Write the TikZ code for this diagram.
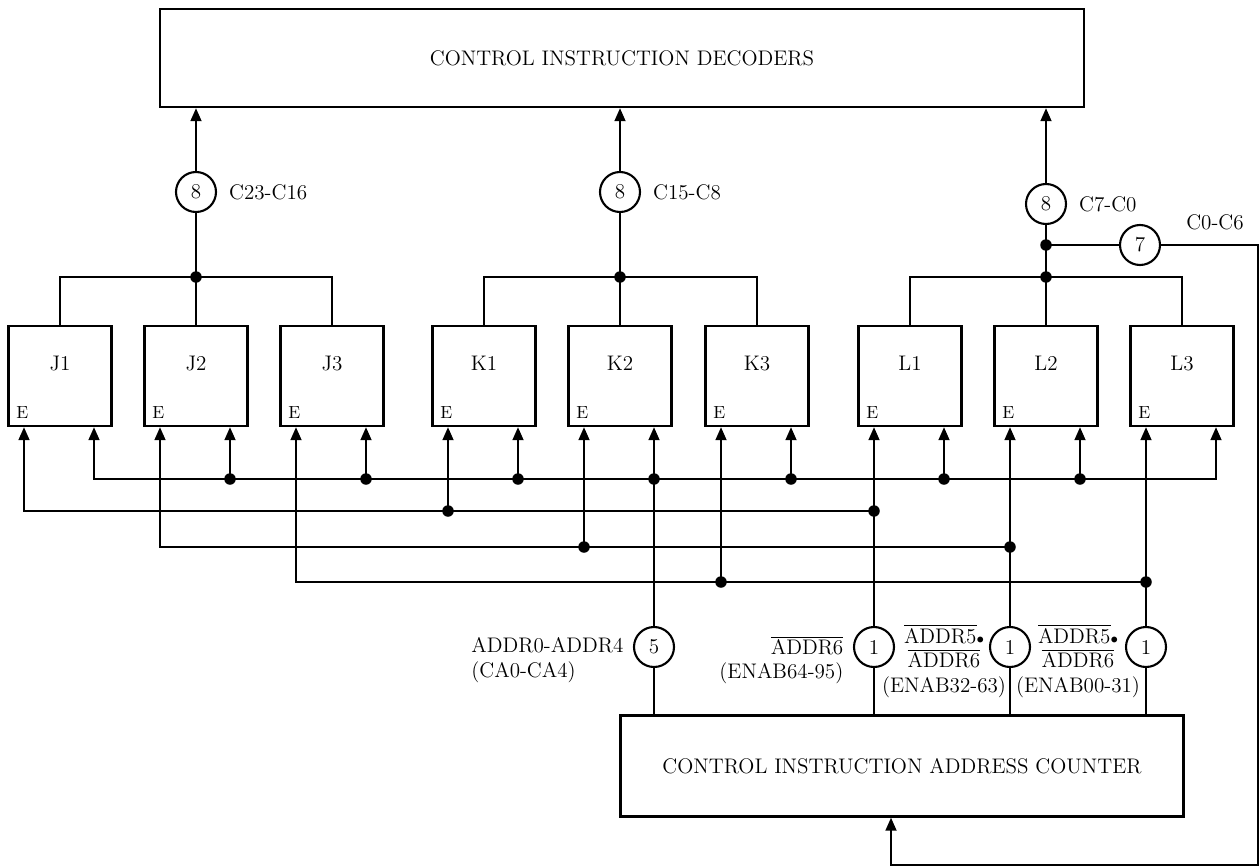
\documentclass[tikz,border=0pt]{standalone}
\usepackage{amsmath,amssymb}
\usepackage{tikz}
\usetikzlibrary{arrows.meta,positioning}

\begin{document}
\begin{tikzpicture}[
  x=0.2mm,y=-0.2mm,
  >={Triangle[length=2.6mm,width=2.2mm]},
  wire/.style={line width=1pt},
  flow/.style={wire,->},
  block/.style={draw,line width=1.4pt,align=center,font=\large},
  reg/.style={draw,line width=1.4pt,minimum width=2.06cm,minimum height=2cm,text depth=5mm,font=\large,
    label={[anchor=south west,inner sep=5pt]south west:E}},
  ring/.style={draw,line width=1.2pt,circle,minimum size=8mm,inner sep=0pt,font=\large},
  sig/.style={font=\large,inner sep=1pt}
]
\useasboundingbox (0,0) rectangle (1260,867);
\node[block,minimum width=18.48cm,minimum height=1.96cm] (dec) at (622,58) {CONTROL INSTRUCTION DECODERS};
\node[block,minimum width=11.26cm,minimum height=2.02cm] (ctr) at (902,766) {CONTROL INSTRUCTION ADDRESS COUNTER};
% register rows
\node[reg] (J1) at (60,376) {J1}; \node[reg] (J2) at (196,376) {J2}; \node[reg] (J3) at (332,376) {J3};
\node[reg] (K1) at (484,376) {K1}; \node[reg] (K2) at (620,376) {K2}; \node[reg] (K3) at (757,376) {K3};
\node[reg] (L1) at (910,376) {L1}; \node[reg] (L2) at (1046,376) {L2}; \node[reg] (L3) at (1182,376) {L3};
\coordinate (J1e) at ([xshift=-7.2mm]J1.south); \coordinate (J1d) at ([xshift=6.8mm]J1.south);
\coordinate (J2e) at ([xshift=-7.2mm]J2.south); \coordinate (J2d) at ([xshift=6.8mm]J2.south);
\coordinate (J3e) at ([xshift=-7.2mm]J3.south); \coordinate (J3d) at ([xshift=6.8mm]J3.south);
\coordinate (K1e) at ([xshift=-7.2mm]K1.south); \coordinate (K1d) at ([xshift=6.8mm]K1.south);
\coordinate (K2e) at ([xshift=-7.2mm]K2.south); \coordinate (K2d) at ([xshift=6.8mm]K2.south);
\coordinate (K3e) at ([xshift=-7.2mm]K3.south); \coordinate (K3d) at ([xshift=6.8mm]K3.south);
\coordinate (L1e) at ([xshift=-7.2mm]L1.south); \coordinate (L1d) at ([xshift=6.8mm]L1.south);
\coordinate (L2e) at ([xshift=-7.2mm]L2.south); \coordinate (L2d) at ([xshift=6.8mm]L2.south);
\coordinate (L3e) at ([xshift=-7.2mm]L3.south); \coordinate (L3d) at ([xshift=6.8mm]L3.south);
\coordinate (ob) at (0,277); \coordinate (rl) at (0,647);
\coordinate (b1) at (0,479); \coordinate (b2) at (0,511); \coordinate (b3) at (0,547); \coordinate (b4) at (0,582);
% outputs to the decoders
\coordinate (jj) at (J2.north |- ob); \coordinate (kk) at (K2.north |- ob); \coordinate (ll) at (L2.north |- ob);
\draw[wire] (J1.north) |- (jj) -| (J3.north); \draw[wire] (J2.north) -- (jj);
\draw[wire] (K1.north) |- (kk) -| (K3.north); \draw[wire] (K2.north) -- (kk);
\draw[wire] (L1.north) |- (ll) -| (L3.north); \draw[wire] (L2.north) -- (ll);
\node[ring] (cj) at (196,192) {8}; \node[ring] (ck) at (620,192) {8}; \node[ring] (cl) at (1046,204) {8};
\node[sig,right=2mm of cj] (tj) {C23-C16}; \node[sig,right=2mm of ck] (tk) {C15-C8}; \node[sig,right=2mm of cl] (tl) {C7-C0};
\draw[wire] (jj) -- (cj); \draw[flow] (cj) -- (dec.south -| cj);
\draw[wire] (kk) -- (ck); \draw[flow] (ck) -- (dec.south -| ck);
\draw[wire] (ll) -- (cl); \draw[flow] (cl) -- (dec.south -| cl);
\fill (jj) circle (1.15mm); \fill (kk) circle (1.15mm); \fill (ll) circle (1.15mm);
\coordinate (lt) at (1046,245); \node[ring] (c7) at (1140,245) {7}; \node[sig] (t7) at (1215,222) {C0-C6};
\draw[wire] (lt) -- (c7); \fill (lt) circle (1.15mm);
\coordinate (fbr) at (1258,865); \coordinate (fbl) at (891,865);
\draw[flow] (c7) -| (fbr) -- (fbl) -- (ctr.south -| fbl);
% address bus
\draw[wire,<->] (J1d) |- (L3d |- b1) -- (L3d);
\draw[flow] (J2d |- b1) -- (J2d); \draw[flow] (J3d |- b1) -- (J3d); \draw[flow] (K1d |- b1) -- (K1d);
\draw[flow] (K2d |- b1) -- (K2d); \draw[flow] (K3d |- b1) -- (K3d); \draw[flow] (L1d |- b1) -- (L1d);
\draw[flow] (L2d |- b1) -- (L2d);
\foreach \p in {J2d,J3d,K1d,K2d,K3d,L1d,L2d} \fill (\p |- b1) circle (1.15mm);
\node[ring] (c5) at (K2d |- rl) {5};
\draw[wire] (ctr.north -| c5) -- (c5) -- (K2d |- b1);
% enable lines
\node[ring] (e1) at (L1e |- rl) {1}; \node[ring] (e2) at (L2e |- rl) {1}; \node[ring] (e3) at (L3e |- rl) {1};
\draw[flow] (ctr.north -| e1) -- (e1) -- (L1e);
\draw[flow] (ctr.north -| e2) -- (e2) -- (L2e);
\draw[flow] (ctr.north -| e3) -- (e3) -- (L3e);
\draw[flow] (L1e |- b2) -| (J1e); \draw[flow] (K1e |- b2) -- (K1e);
\draw[flow] (L2e |- b3) -| (J2e); \draw[flow] (K2e |- b3) -- (K2e);
\draw[flow] (L3e |- b4) -| (J3e); \draw[flow] (K3e |- b4) -- (K3e);
\fill (K1e |- b2) circle (1.15mm); \fill (L1e |- b2) circle (1.15mm);
\fill (K2e |- b3) circle (1.15mm); \fill (L2e |- b3) circle (1.15mm);
\fill (K3e |- b4) circle (1.15mm); \fill (L3e |- b4) circle (1.15mm);
% signal names
\node[sig,left=1.5mm of c5,yshift=-2.6mm,align=left] (ta) {ADDR0-ADDR4\\(CA0-CA4)};
\node[sig,left=1.5mm of e1,yshift=-2.6mm,align=right] (tb) {$\overline{\mathrm{ADDR6}}$\\(ENAB64-95)};
\node[sig,align=center] (tc) at (944,661) {$\overline{\mathrm{ADDR5}}{\scriptstyle\bullet}$\\$\overline{\mathrm{ADDR6}}$\\(ENAB32-63)};
\node[sig,align=center] (td) at (1078,661) {$\overline{\mathrm{ADDR5}}{\scriptstyle\bullet}$\\$\overline{\mathrm{ADDR6}}$\\(ENAB00-31)};
\end{tikzpicture}
\end{document}
